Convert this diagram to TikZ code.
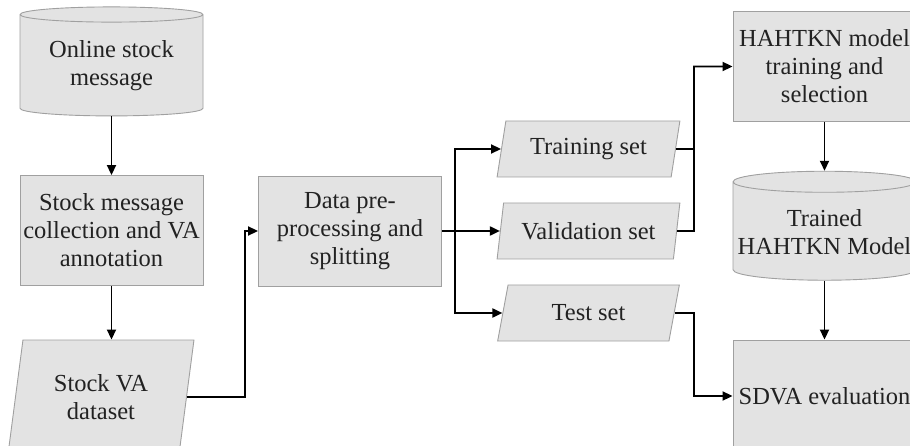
\documentclass[tikz,border=0pt]{standalone}
\usepackage{fontspec}
\setmainfont{Liberation Serif}
\usepackage{tikz}
\usetikzlibrary{positioning,shapes.geometric,arrows.meta}

\definecolor{boxfill}{HTML}{E3E3E3}
\definecolor{boxline}{HTML}{A0A0A0}
\definecolor{boxtext}{HTML}{222222}

\tikzset{
  base/.style={draw=boxline, fill=boxfill, text=boxtext, align=center,
               inner sep=1pt, line width=0.9pt,
               font=\fontsize{24.5}{28}\selectfont},
  procbox/.style={base, rectangle, minimum width=183pt, minimum height=110pt},
  databox/.style={base, trapezium, trapezium left angle=75,
                  trapezium right angle=105, trapezium stretches=true,
                  minimum width=183pt, minimum height=56pt},
  storebox/.style={base, cylinder, shape border rotate=90, aspect=0.12,
                   cylinder uses custom fill, cylinder body fill=boxfill,
                   cylinder end fill=boxfill,
                   minimum width=183pt, minimum height=109pt},
  flow/.style={->, line width=1.9pt, black}
}

\begin{document}
\begin{tikzpicture}[x=1pt, y=-1pt, >={Triangle[length=10pt,width=9pt]}]
  \clip (0,0) rectangle (910,446);

  %--- Left column: collection
  \node[storebox] (online) at (111.5,66) {Online stock\\message};
  \node[procbox] (collect) at (111.5,230.5) {Stock message\\collection and VA\\annotation};
  \node[databox, trapezium left angle=79, trapezium right angle=101,
        minimum width=186pt, minimum height=114pt] (stockva) at (101,397) {Stock VA\\dataset};

  %--- Middle: splitting
  \node[procbox] (split) at (350,231) {Data pre-\\processing and\\splitting};
  \node[databox] (train) at (588.5,149) {Training set};
  \node[databox] (valid) at (588.5,231) {Validation set};
  \node[databox] (test)  at (588.5,313) {Test set};

  %--- Right column: model
  \node[procbox] (model) at (824.5,66.5) {HAHTKN model\\training and\\selection};
  \node[storebox] (trained) at (824.5,232) {Trained\\HAHTKN Model};
  \node[procbox, minimum height=112pt] (eval) at (824.5,396) {SDVA evaluation};

  %--- Bus points
  \coordinate (lbus) at (245,231);
  \coordinate (sbus) at (455,231);
  \coordinate (rbus) at (694,231);

  %--- Connectors
  \draw[flow] (online) -- (collect);
  \draw[flow] (collect.south) -- (collect.south |- stockva.north);
  \draw[flow] (stockva.east) -| (lbus) -- (split.west);
  \draw[line width=1.9pt] (split.east) -- (sbus);
  \draw[flow] (sbus) |- (train.west);
  \draw[flow] (sbus) -- (valid.west);
  \draw[flow] (sbus) |- (test.west);
  \draw[line width=1.9pt] (train.east) -- (train.east -| rbus);
  \draw[flow] (valid.east) -- (rbus) |- (model.west);
  \draw[flow] (model) -- (trained);
  \draw[flow] (trained) -- (eval);
  \draw[flow] (test.east) -| (eval.west -| rbus) -- (eval.west);

\end{tikzpicture}
\end{document}
